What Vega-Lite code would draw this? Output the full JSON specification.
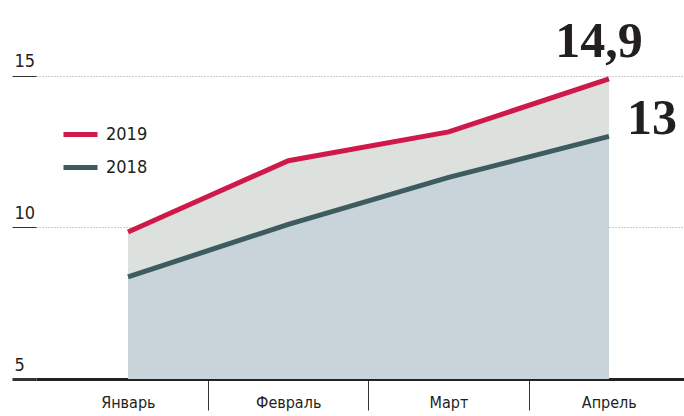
{
  "$schema": "https://vega.github.io/schema/vega-lite/v6.json",
  "autosize": "none",
  "width": 648,
  "height": 379,
  "padding": {"left": 36, "top": 0, "right": 0, "bottom": 37},
  "background": "white",
  "config": {
    "view": {"stroke": null},
    "font": "'Liberation Sans Narrow', 'DejaVu Sans Condensed', Roboto, sans-serif",
    "legend": {"padding": 0}
  },
  "data": {
    "values": [
      {"i": 0, "month": "Январь", "year": "2019", "value": 9.85},
      {"i": 1, "month": "Февраль", "year": "2019", "value": 12.2},
      {"i": 2, "month": "Март", "year": "2019", "value": 13.15},
      {"i": 3, "month": "Апрель", "year": "2019", "value": 14.9},
      {"i": 0, "month": "Январь", "year": "2018", "value": 8.37},
      {"i": 1, "month": "Февраль", "year": "2018", "value": 10.1},
      {"i": 2, "month": "Март", "year": "2018", "value": 11.65},
      {"i": 3, "month": "Апрель", "year": "2018", "value": 13}
    ]
  },
  "encoding": {
    "x": {
      "field": "i",
      "type": "quantitative",
      "scale": {"domain": [-0.574, 3.468], "nice": false, "zero": false},
      "axis": {
        "title": null,
        "values": [-0.5, 0.5, 1.5, 2.5],
        "grid": false,
        "domain": true,
        "domainColor": "#222222",
        "domainWidth": 3,
        "ticks": true,
        "tickSize": 31,
        "tickWidth": 1,
        "tickColor": {"condition": {"test": "datum.value < 0", "value": "transparent"}, "value": "#333333"},
        "labelExpr": "datum.value < 0 ? 'Январь' : datum.value < 1 ? 'Февраль' : datum.value < 2 ? 'Март' : 'Апрель'",
        "labelOffset": 80,
        "labelAlign": "center",
        "labelBaseline": "top",
        "labelPadding": -16,
        "labelFontSize": 16,
        "labelColor": "#231f20",
        "labelFont": "'Liberation Sans Narrow', 'DejaVu Sans Condensed', Roboto, sans-serif",
        "labelOverlap": false,
        "labelBound": false,
        "labelFlush": false
      }
    },
    "y": {
      "field": "value",
      "type": "quantitative",
      "scale": {"domain": [5, 17.5], "nice": false, "zero": false},
      "axis": {
        "title": null,
        "values": [5, 10, 15],
        "domain": false,
        "grid": true,
        "gridDash": [1, 2],
        "gridColor": "#999999",
        "gridWidth": 1,
        "ticks": true,
        "tickSize": 24,
        "tickColor": "#333333",
        "tickWidth": {"condition": {"test": "datum.value === 5", "value": 3}, "value": 1},
        "labelAlign": "left",
        "labelBaseline": "alphabetic",
        "labelPadding": -2,
        "labelOffset": -9,
        "labelFontSize": 18,
        "labelColor": "#231f20",
        "labelFont": "'Liberation Sans Narrow', 'DejaVu Sans Condensed', Roboto, sans-serif",
        "labelFlush": false,
        "labelBound": false,
        "labelOverlap": false
      }
    }
  },
  "layer": [
    {
      "transform": [{"filter": "datum.year === '2019'"}],
      "mark": {"type": "area", "color": "#dce1de", "opacity": 1},
      "encoding": {"y2": {"datum": 5}}
    },
    {
      "transform": [{"filter": "datum.year === '2018'"}],
      "mark": {"type": "area", "color": "#c8d4d9", "opacity": 1},
      "encoding": {"y2": {"datum": 5}}
    },
    {
      "mark": {"type": "line", "strokeWidth": 5, "strokeCap": "butt", "strokeJoin": "miter"},
      "encoding": {
        "color": {
          "field": "year",
          "type": "nominal",
          "scale": {"domain": ["2019", "2018"], "range": ["#d0194b", "#3e5c60"]},
          "legend": {
            "title": null,
            "orient": "none",
            "legendX": 25,
            "legendY": 115,
            "symbolType": "stroke",
            "symbolStrokeWidth": 5,
            "symbolSize": 1156,
            "labelFontSize": 18,
            "labelFont": "'Liberation Sans Narrow', 'DejaVu Sans Condensed', Roboto, sans-serif",
            "labelColor": "#231f20",
            "labelOffset": 6,
            "rowPadding": 3
          }
        }
      }
    },
    {
      "transform": [{"filter": "datum.year === '2019' && datum.i === 3"}],
      "mark": {"type": "text", "font": "Liberation Serif", "fontWeight": "bold", "fontSize": 50, "align": "center", "baseline": "alphabetic", "dx": -10, "dy": -22, "color": "#231f20"},
      "encoding": {"text": {"value": "14,9"}}
    },
    {
      "transform": [{"filter": "datum.year === '2018' && datum.i === 3"}],
      "mark": {"type": "text", "font": "Liberation Serif", "fontWeight": "bold", "fontSize": 50, "align": "left", "baseline": "alphabetic", "dx": 18, "dy": -2, "color": "#231f20"},
      "encoding": {"text": {"value": "13"}}
    }
  ]
}
